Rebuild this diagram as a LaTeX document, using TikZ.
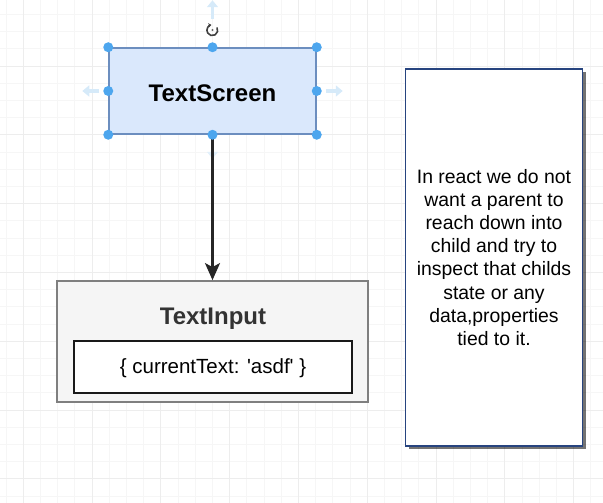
\documentclass[tikz,border=0pt]{standalone}
\usepackage{fontspec}
\setmainfont{Liberation Sans}
\usetikzlibrary{arrows.meta, positioning, shadows}
\definecolor{screenfill}{HTML}{DAE8FC}
\definecolor{screenline}{HTML}{6C8EBF}
\definecolor{handleblue}{HTML}{4DA6EE}
\definecolor{ghostblue}{HTML}{D6EAF9}
\definecolor{inputfill}{HTML}{F5F5F5}
\definecolor{inputline}{HTML}{7F7F7F}
\definecolor{noteline}{HTML}{27447F}
\definecolor{gridminor}{HTML}{F6F6F6}
\definecolor{gridmajor}{HTML}{EDEDED}

\begin{document}
\begin{tikzpicture}[x=1pt, y=-1pt,
  gridline/.style={draw=gridminor, line width=0.9pt},
  gridbold/.style={draw=gridmajor, line width=0.9pt},
  component/.style={rectangle, draw=screenline, fill=screenfill, line width=1.5pt, minimum width=207pt, minimum height=86pt, inner sep=0pt},
  container/.style={rectangle, draw=inputline, fill=inputfill, line width=1.8pt, minimum width=311pt, minimum height=121pt, inner sep=0pt},
  title/.style={font=\fontsize{24}{28}\selectfont\bfseries, inner sep=0pt},
  statebox/.style={rectangle, draw=black!90, fill=white, line width=2pt, minimum width=278pt, minimum height=52pt, inner sep=0pt},
  notebox/.style={rectangle, draw=noteline, fill=white, line width=1.3pt, minimum width=177pt, minimum height=377pt, inner sep=0pt, align=center, font=\fontsize{19.4}{23.1}\selectfont, drop shadow={shadow xshift=3pt, shadow yshift=-3pt, fill=black, opacity=0.55}},
  link/.style={-{Stealth[length=17pt, width=15pt, inset=4pt]}, draw=black!85, line width=2.4pt},
  ghost/.style={-{Triangle[length=7pt, width=11pt]}, draw=ghostblue, line width=3.5pt},
  handle/.style={circle, fill=handleblue, inner sep=0pt, minimum size=10pt}
]
  \useasboundingbox (0,0) rectangle (603,503);

  % Background grid
  \foreach \i in {0,...,34} \draw[gridline] ({6+17.2*\i},0) -- ({6+17.2*\i},503);
  \foreach \j in {0,...,29} \draw[gridline] (0,{14.4+17.2*\j}) -- (603,{14.4+17.2*\j});
  \foreach \i in {1,5,...,33} \draw[gridbold] ({6+17.2*\i},0) -- ({6+17.2*\i},503);
  \foreach \j in {3,7,...,27} \draw[gridbold] (0,{14.4+17.2*\j}) -- (603,{14.4+17.2*\j});

  % Parent component
  \node[component] (scr) at (212.5, 91) {};
  \node[title] (scrtitle) at (212.5, 93) {TextScreen};

  % Child component with its state
  \node[container] (inp) at (212.5, 341.5) {};
  \node[title, text=black!80] (inptitle) at (213, 319) {TextInput};
  \node[statebox] (state) at (213, 367) {};
  \node[inner sep=0pt, font=\fontsize{20.5}{24}\selectfont] (statetext) at (213, 368.5) {\{ currentText: \textquotesingle asdf\textquotesingle\ \}};

  % Note
  \node[notebox] (note) at (494, 257.5) {In react we do not\\want a parent to\\reach down into\\child and try to\\inspect that childs\\state or any\\data,properties\\tied to it.};

  % Selection helpers
  \draw[ghost] ([xshift=-9pt]scr.west) -- ([xshift=-26pt]scr.west);
  \draw[ghost] ([xshift=9pt]scr.east) -- ([xshift=26pt]scr.east);
  \draw[ghost] ([yshift=28pt]scr.north) -- ([yshift=47pt]scr.north);
  \draw[ghost, draw=ghostblue!70] ([yshift=-9pt]scr.south) -- ([yshift=-24pt]scr.south);

  % Connection
  \draw[link] (scr) -- (inp);

  \node[inner sep=0pt] (rot) at (212.5, 30) {};
  \draw[black!75, line width=1.6pt, -{Stealth[length=3pt, width=4.5pt]}] ([shift={(4.5pt,2.5pt)}]rot.center) arc[start angle=30, end angle=-260, radius=5.4pt];
  \fill[black!60] (rot.center) circle[radius=1.2pt];
  \foreach \a/\n in {north west/nw, north/n, north east/ne, east/e, south east/se, south/s, south west/sw, west/w}
    \node[handle] (h\n) at (scr.\a) {};
\end{tikzpicture}
\end{document}
